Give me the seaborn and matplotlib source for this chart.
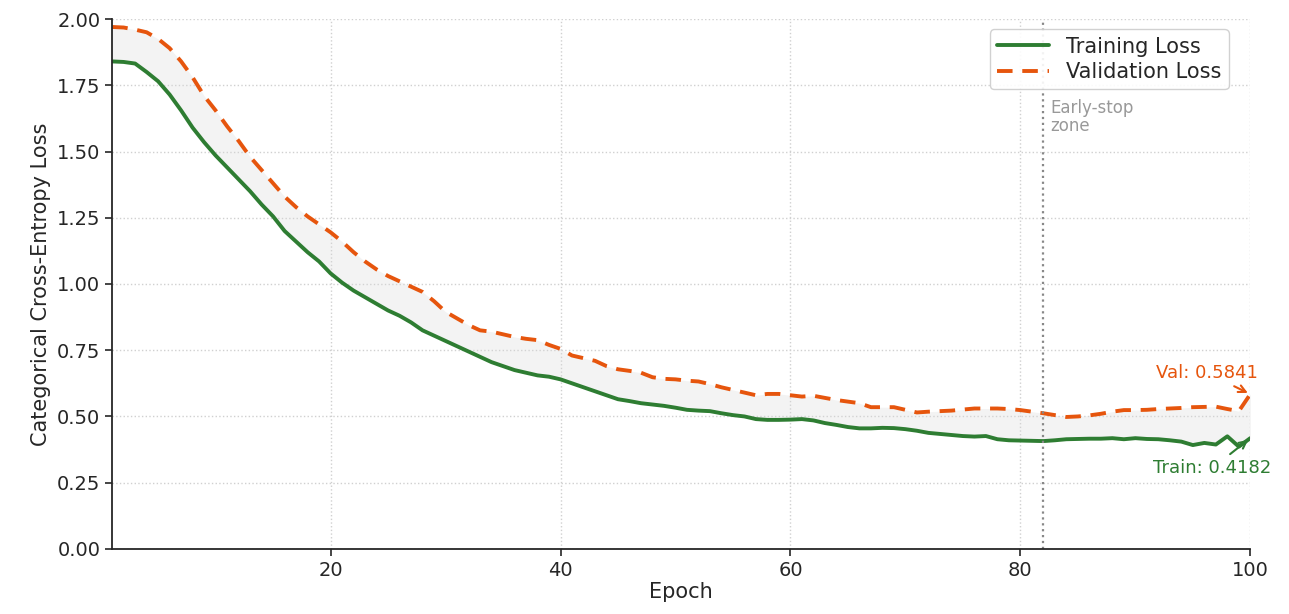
import numpy as np
import pandas as pd
import matplotlib
matplotlib.use("Agg")
import matplotlib.pyplot as plt
import seaborn as sns

epochs = list(range(1, 101))

train_loss = [
    1.840, 1.838, 1.832, 1.800, 1.765, 1.715, 1.655, 1.590, 1.535, 1.485,
    1.440, 1.395, 1.350, 1.300, 1.255, 1.200, 1.160, 1.120, 1.085, 1.040,
    1.005, 0.975, 0.950, 0.925, 0.900, 0.880, 0.855, 0.825, 0.805, 0.785,
    0.765, 0.745, 0.725, 0.705, 0.690, 0.675, 0.665, 0.655, 0.650, 0.640,
    0.625, 0.610, 0.595, 0.580, 0.565, 0.558, 0.550, 0.545, 0.540, 0.533,
    0.525, 0.522, 0.520, 0.512, 0.505, 0.500, 0.490, 0.487, 0.487, 0.488,
    0.490, 0.485, 0.475, 0.468, 0.460, 0.455, 0.455, 0.457, 0.456, 0.452,
    0.446, 0.438, 0.434, 0.430, 0.426, 0.424, 0.426, 0.414, 0.410, 0.409,
    0.408, 0.407, 0.410, 0.414, 0.415, 0.416, 0.416, 0.418, 0.414, 0.418,
    0.415, 0.414, 0.410, 0.405, 0.392, 0.400, 0.394, 0.425, 0.386, 0.4182,
]

val_loss = [
    1.970, 1.968, 1.960, 1.950, 1.925, 1.890, 1.840, 1.780, 1.710, 1.655,
    1.595, 1.540, 1.480, 1.430, 1.380, 1.330, 1.290, 1.255, 1.225, 1.195,
    1.160, 1.120, 1.085, 1.055, 1.030, 1.010, 0.990, 0.970, 0.935, 0.895,
    0.870, 0.845, 0.825, 0.820, 0.810, 0.800, 0.793, 0.788, 0.770, 0.755,
    0.730, 0.720, 0.710, 0.690, 0.678, 0.672, 0.665, 0.648, 0.642, 0.640,
    0.635, 0.632, 0.622, 0.610, 0.600, 0.590, 0.580, 0.585, 0.585, 0.580,
    0.575, 0.578, 0.570, 0.562, 0.556, 0.550, 0.535, 0.535, 0.535, 0.525,
    0.515, 0.518, 0.520, 0.522, 0.526, 0.530, 0.530, 0.530, 0.528, 0.524,
    0.518, 0.512, 0.505, 0.498, 0.500, 0.504, 0.510, 0.518, 0.524, 0.524,
    0.525, 0.528, 0.530, 0.532, 0.535, 0.536, 0.537, 0.528, 0.520, 0.5841,
]

early_stop_epoch = 82

GREEN = "#2e7d32"
ORANGE = "#e6550d"

df = pd.DataFrame({"epoch": epochs, "train": train_loss, "val": val_loss})

sns.set_style("ticks")
plt.rcParams["font.family"] = ["DejaVu Sans"]

fig = plt.figure(figsize=(12.89, 6.14), dpi=100)
ax = fig.add_axes([0.087, 0.106, 0.883, 0.863])

ax.fill_between(df["epoch"], df["train"], df["val"], color="#d9d9d9", alpha=0.3, lw=0)
sns.lineplot(data=df, x="epoch", y="train", ax=ax, color=GREEN, lw=2.8, label="Training Loss")
sns.lineplot(data=df, x="epoch", y="val", ax=ax, color=ORANGE, lw=2.8, ls=(0, (4, 2.5)),
             label="Validation Loss")

ax.axvline(early_stop_epoch, color="#888888", ls=":", lw=1.6)
ax.text(early_stop_epoch + 0.6, 1.70, "Early-stop\nzone", color="#999999",
        fontsize=12, va="top", ha="left", linespacing=1.05)

ax.annotate(f"Val: {val_loss[-1]:.4f}", xy=(100, val_loss[-1]), xytext=(96.2, 0.665),
            color=ORANGE, fontsize=13, ha="center", va="center",
            arrowprops=dict(arrowstyle="->", color=ORANGE, lw=1.5))
ax.annotate(f"Train: {train_loss[-1]:.4f}", xy=(100, train_loss[-1]), xytext=(96.7, 0.305),
            color=GREEN, fontsize=13, ha="center", va="center",
            arrowprops=dict(arrowstyle="->", color=GREEN, lw=1.5))

ax.set_xlim(1, 100)
ax.set_ylim(0, 2)
ax.set_xticks([20, 40, 60, 80, 100])
ax.set_yticks(np.arange(0, 2.01, 0.25))
ax.yaxis.set_major_formatter(matplotlib.ticker.FormatStrFormatter("%.2f"))
ax.grid(True, ls=":", color="#d0d0d0", lw=1)
ax.tick_params(labelsize=14, width=1.2, length=5)
for s in ["top", "right"]:
    ax.spines[s].set_visible(False)
for s in ["left", "bottom"]:
    ax.spines[s].set_linewidth(1.3)

ax.set_xlabel("Epoch", fontsize=15, labelpad=2)
ax.set_ylabel("Categorical Cross-Entropy Loss", fontsize=15)

ax.legend(loc="upper right", fontsize=15, frameon=True, framealpha=0.9,
          edgecolor="#cccccc", bbox_to_anchor=(0.99, 1.0), handlelength=2.5,
          labelspacing=0.25, borderpad=0.35)

fig.savefig("out.png", dpi=100)
